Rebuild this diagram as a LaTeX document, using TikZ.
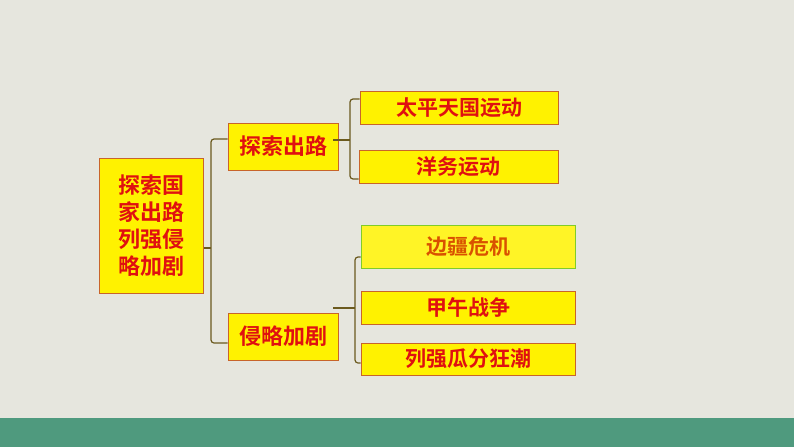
\documentclass[tikz,border=0pt]{standalone}
\usepackage{fontspec}
\newfontfamily\cjk{Noto Sans CJK SC Bold}
\definecolor{bg}{HTML}{E6E6DE}
\definecolor{bar}{HTML}{4F9A7E}
\definecolor{edge}{HTML}{C8642A}
\definecolor{ink}{HTML}{E01010}
\definecolor{brk}{HTML}{6B5A1E}
\tikzset{
  box/.style={draw=edge, fill=yellow, line width=1pt, inner sep=0pt, font=\cjk\fontsize{21}{21}\selectfont, text=ink},
  brace/.style={draw=brk, line width=1.2pt, rounded corners=3pt},
}
\begin{document}
\begin{tikzpicture}[x=1pt,y=-1pt]
\fill [bg] (0,0) rectangle (794,447);
\fill [bar] (0,418) rectangle (794,447);
\node [box, minimum width=104pt, minimum height=135pt, align=center, font=\cjk\fontsize{22}{27}\selectfont] (main) at (151,225.5) {探索国\\家出路\\列强侵\\略加剧};
\node [box, minimum width=110pt, minimum height=47pt, font=\cjk\fontsize{22}{22}\selectfont] (explore) at (283,146.5) {探索出路};
\node [box, minimum width=110pt, minimum height=47pt, font=\cjk\fontsize{22}{22}\selectfont] (invade) at (283,336.5) {侵略加剧};
\node [box, minimum width=198pt, minimum height=33pt] (taiping) at (459,107.5) {太平天国运动};
\node [box, minimum width=199pt, minimum height=33pt] (yangwu) at (458.5,166.5) {洋务运动};
\node [box, draw=yellow!50!green, fill=yellow!85!white, text=orange!75!red!85!black, minimum width=214pt, minimum height=43pt] (border) at (468,246.5) {边疆危机};
\node [box, minimum width=214pt, minimum height=33pt] (jiawu) at (468,307.5) {甲午战争};
\node [box, minimum width=214pt, minimum height=32pt] (partition) at (468,359) {列强瓜分狂潮};
% brackets
\coordinate (b1) at (211,248);
\draw [brace] (main.east |- b1) -- (b1);
\draw [brace] (explore.west |- 0,139) -- (211,139) -- (211,343) -- (invade.west |- 0,343);
\coordinate (b2) at (350,140);
\draw [brace] (333,140) -- (b2);
\draw [brace] (taiping.west |- 0,99) -- (350,99) -- (350,179) -- (yangwu.west |- 0,179);
\coordinate (b3) at (355,308);
\draw [brace] (333,308) -- (b3);
\draw [brace] (border.west |- 0,257) -- (355,257) -- (355,363) -- (partition.west |- 0,363);
\end{tikzpicture}
\end{document}
